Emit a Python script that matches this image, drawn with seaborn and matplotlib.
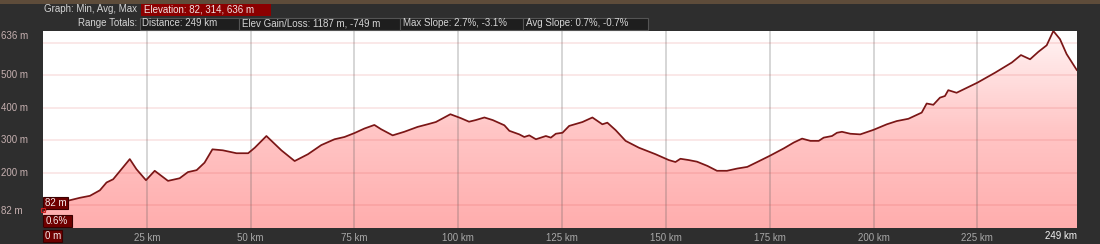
import numpy as np
import pandas as pd
import matplotlib
matplotlib.use("Agg")
import matplotlib.pyplot as plt
import seaborn as sns
from matplotlib.colors import LinearSegmentedColormap
from matplotlib.patches import Rectangle

# ---------------- data ----------------
distance_km = [0, 4.1, 8.9, 11.3, 13.7, 15.3, 16.9, 18.9, 20.9, 22.5, 24.8, 26.9, 30.1, 32.9,
               34.9, 37.0, 38.9, 40.8, 43.3, 46.6, 49.4, 51.0, 53.8, 57.4, 60.6, 63.8, 67.0,
               70.2, 72.6, 75.0, 77.4, 79.8, 81.4, 84.2, 87.0, 90.2, 92.6, 94.6, 98.1, 100.6,
               102.6, 104.2, 106.3, 108.3, 111.1, 112.3, 114.7, 115.9, 117.1, 118.7, 121.1,
               122.3, 123.5, 125.1, 126.7, 129.9, 132.3, 134.7, 135.9, 137.9, 140.3, 143.5,
               147.5, 150.7, 152.3, 153.5, 155.5, 157.5, 160.0, 162.3, 164.7, 167.2, 169.6,
               172.0, 175.0, 178.4, 180.8, 182.8, 184.8, 186.8, 188.0, 190.0, 191.2, 192.4,
               194.4, 196.8, 200.0, 203.2, 205.6, 208.4, 211.6, 212.8, 214.4, 216.0, 217.2,
               218.0, 220.0, 225.0, 229.3, 233.3, 235.5, 237.7, 239.7, 241.7, 243.3, 244.9,
               246.5, 249.0]
elevation_m = [82, 108, 123, 129, 146, 170, 180, 211, 242, 211, 177, 206, 175, 183,
               202, 208, 231, 272, 269, 260, 260, 277, 313, 269, 236, 257, 285,
               303, 310, 322, 336, 347, 334, 315, 326, 341, 349, 356, 380, 368,
               357, 362, 370, 362, 346, 329, 318, 310, 315, 303, 313,
               308, 320, 323, 344, 356, 370, 349, 354, 331, 298, 277,
               257, 239, 233, 243, 239, 234, 221, 206, 206, 213, 218,
               233, 252, 275, 293, 305, 298, 298, 308, 313, 323, 326,
               320, 318, 332, 349, 359, 366, 385, 413, 409, 431, 436,
               454, 446, 477, 508, 539, 562, 549, 572, 592, 636, 611,
               565, 515]
x_ticks = [25, 50, 75, 100, 125, 150, 175, 200, 225]
x_tick_labels = ["25 km", "50 km", "75 km", "100 km", "125 km", "150 km", "175 km", "200 km", "225 km"]
y_label_values = [636, 500, 400, 300, 200, 82]
y_grid_values = [100, 200, 300, 400, 500, 600]

header_row1 = ("Graph: Min, Avg, Max", "Elevation: 82, 314, 636 m")
header_row2_label = "Range Totals:"
header_row2 = ["Distance: 249 km", "Elev Gain/Loss: 1187 m, -749 m",
               "Max Slope: 2.7%, -3.1%", "Avg Slope: 0.7%, -0.7%"]

# ---------------- style ----------------
sns.set_theme(style="white")
plt.rcParams['font.family'] = ['Liberation Sans', 'DejaVu Sans']
FS = 7.0
BG = '#2e2e2e'

W, H = 1100, 244
fig = plt.figure(figsize=(W / 100, H / 100), dpi=100, facecolor=BG)

L, R, T, B = 43, 1077, 31, 228
ax = fig.add_axes([L / W, 1 - B / H, (R - L) / W, (B - T) / H])
ax.set_facecolor('white')
XMIN, XMAX, YMIN, YMAX = 0, 249, 30, 636

df = pd.DataFrame({'km': distance_km, 'elev': elevation_m})

# area with vertical gradient
poly = ax.fill_between(df['km'], df['elev'], YMIN - 10, color='none', lw=0)
cmap = LinearSegmentedColormap.from_list('pinkgrad', ['#ffadad', '#ffc6c6', '#fff4f4'])
grad = np.linspace(0, 1, 256).reshape(-1, 1)
im = ax.imshow(grad, extent=[XMIN, XMAX, YMIN, YMAX], origin='lower', aspect='auto',
               cmap=cmap, zorder=1, interpolation='bilinear')
im.set_clip_path(poly.get_paths()[0], transform=ax.transData)

sns.lineplot(data=df, x='km', y='elev', ax=ax, color='#7a1616', lw=1.25, zorder=4)

ax.set_xlim(XMIN, XMAX)
ax.set_ylim(YMIN, YMAX)

# grid lines
for v in x_ticks:
    ax.axvline(v, color=(0.35, 0.35, 0.35, 0.26), lw=1.3, zorder=3)
for v in y_grid_values:
    ax.axhline(v, color=(0.85, 0.2, 0.2, 0.12), lw=1.3, zorder=3)

ax.set_xticks(x_ticks)
ax.set_xticklabels(x_tick_labels, color='#a8a8a8', fontsize=FS)
ax.tick_params(axis='x', length=0, pad=3.5)
ax.set_yticks([])
ax.set_xlabel('')
ax.set_ylabel('')
for s in ax.spines.values():
    s.set_visible(False)

# y labels (left edge of figure)
for v in y_label_values:
    ax.text(-42 / (R - L), v, f"{v} m", transform=ax.get_yaxis_transform(),
            ha='left', va='top' if v == YMAX else 'center',
            color='#c6b0b0', fontsize=FS)

# ---------------- overlay in pixel coords ----------------
ov = fig.add_axes([0, 0, 1, 1], facecolor='none')
ov.set_xlim(0, W)
ov.set_ylim(H, 0)
ov.axis('off')

def box(x0, x1, y0, y1, fc, ec=None, lw=0.8):
    ov.add_patch(Rectangle((x0, y0), x1 - x0, y1 - y0, fc=fc,
                           ec=ec if ec else fc, lw=lw if ec else 0))

# top photo strip
box(0, W, 0, 4, '#5e4c3a')

# header row 1
ov.text(137.5, 9.5, header_row1[0], ha='right', va='center', color='#d4d4d4', fontsize=FS)
box(141, 271, 3.5, 15.5, '#8c0000')
ov.text(143.5, 9.5, header_row1[1], ha='left', va='center', color='#f2e4e4', fontsize=FS)

# header row 2
ov.text(137.5, 23.3, header_row2_label, ha='right', va='center', color='#d4d4d4', fontsize=FS)
edges = [139.5, 238.5, 400, 523, 648]
for i, t in enumerate(header_row2):
    box(edges[i], edges[i + 1], 17.5, 29.5, '#1e1e1e', ec='#545454')
    ov.text(edges[i] + 3, 23.3, t, ha='left', va='center', color='#d4d4d4', fontsize=FS)

# in-plot value boxes
box(43, 68, 197, 208.5, '#6e0000', ec='#3a0000')
ov.text(45, 202.8, "82 m", ha='left', va='center', color='#f4eaea', fontsize=FS)
box(43, 72, 215, 227, '#6e0000', ec='#3a0000')
ov.text(46, 221, "0.6%", ha='left', va='center', color='#f4eaea', fontsize=FS)
ov.add_patch(Rectangle((41, 207.5), 4, 4, fc='none', ec='#cc2020', lw=0.8))

# bottom labels
box(43, 62, 230, 242, '#6e0000', ec='#3a0000')
ov.text(45, 236, "0 m", ha='left', va='center', color='#f4eaea', fontsize=FS)
ov.text(1077, 236, "249 km", ha='right', va='center', color='#f4f4f4', fontsize=FS)

fig.savefig('out.png', dpi=100, facecolor=BG)
